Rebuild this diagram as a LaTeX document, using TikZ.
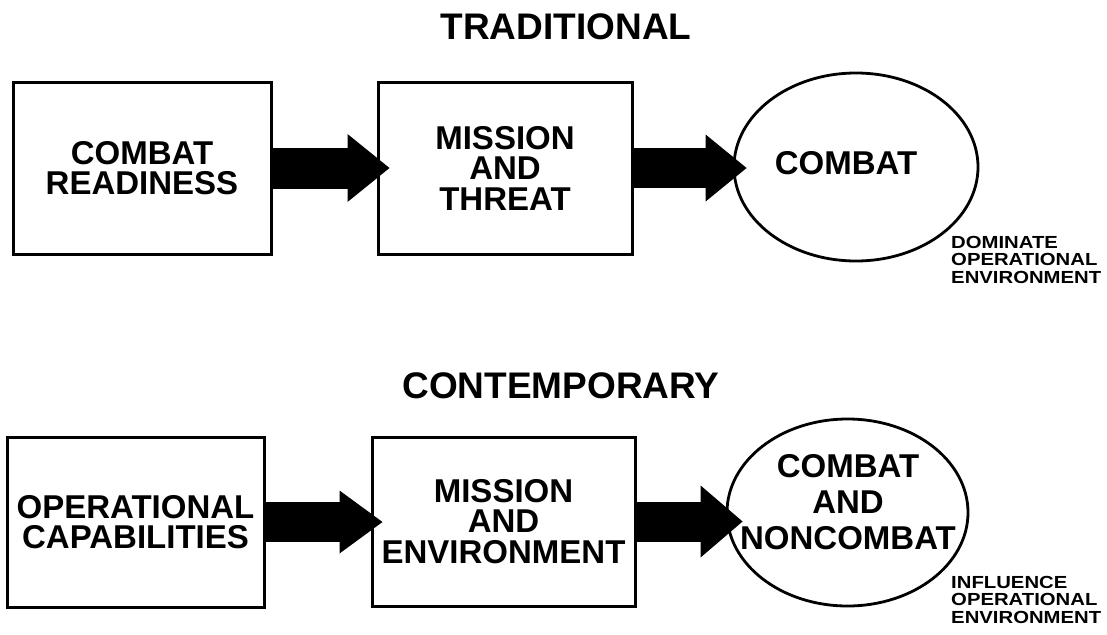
\documentclass[tikz,border=0pt]{standalone}
\usepackage{fontspec}
\setmainfont{Liberation Sans}
\usetikzlibrary{shapes.geometric,arrows.meta,calc}
\begin{document}
\begin{tikzpicture}[x=1pt,y=-1pt,
  box/.style={draw, line width=3pt, rectangle, inner sep=0pt, align=center,
    font=\bfseries\fontsize{33}{30.5}\selectfont},
  oval/.style={draw, line width=2.8pt, ellipse, inner sep=0pt},
  lbl/.style={align=center, inner sep=0pt, font=\bfseries\fontsize{33}{36}\selectfont},
  heading/.style={inner sep=0pt, font=\bfseries\fontsize{37}{37}\selectfont},
  note/.style={anchor=north west, inner sep=0pt, font=\bfseries\fontsize{17.5}{17.5}\selectfont},
  fat/.style={draw=black}
]
\useasboundingbox (0,0) rectangle (1107,634);

% ---- Traditional ----
\node[heading] (t1) at (566,27) {TRADITIONAL};
\node[box, minimum width=258pt, minimum height=172pt] (b1) at (142,168) {COMBAT\\READINESS};
\node[box, minimum width=254pt, minimum height=172pt] (b2) at (505,168) {MISSION\\AND\\THREAT};
\node[oval, minimum width=244pt, minimum height=188pt] (e1) at (856,167) {};
\node[lbl] (e1t) at (846,163) {COMBAT};
\node[note] (n1) at (951,236) {\scalebox{1.16}[1]{\begin{tabular}{@{}l@{}}DOMINATE\\OPERATIONAL\\ENVIRONMENT\end{tabular}}};

\coordinate (a1) at ([xshift=13pt]b2.west);
\coordinate (a2) at ([xshift=14pt]e1.west);
\draw[fat, line width=41pt, -{Triangle[length=42pt,width=68pt,line width=0pt]}] (b1.east) -- (b1.east -| a1);
\draw[fat, line width=40pt, -{Triangle[length=41pt,width=67pt,line width=0pt]}] (b2.east) -- (b2.east -| a2);

% ---- Contemporary ----
\node[heading] (t2) at (561,386) {CONTEMPORARY};
\node[box, minimum width=257pt, minimum height=170pt] (b3) at (135.5,522) {OPERATIONAL\\CAPABILITIES};
\node[box, minimum width=263pt, minimum height=169pt] (b4) at (503.5,521.5) {MISSION\\AND\\ENVIRONMENT};
\node[oval, minimum width=241pt, minimum height=187pt] (e2) at (847.5,512.5) {};
\node[lbl] (e2t) at (848,502) {COMBAT\\AND\\NONCOMBAT};
\node[note] (n2) at (951,576) {\scalebox{1.16}[1]{\begin{tabular}{@{}l@{}}INFLUENCE\\OPERATIONAL\\ENVIRONMENT\end{tabular}}};

\coordinate (a3) at ([xshift=12pt]b4.west);
\coordinate (a4) at ([xshift=17pt]e2.west);
\draw[fat, line width=40pt, -{Triangle[length=43pt,width=63pt,line width=0pt]}] (b3.east) -- (b3.east -| a3);
\draw[fat, line width=40pt, -{Triangle[length=42pt,width=72pt,line width=0pt]}] (b4.east) -- (b4.east -| a4);
\end{tikzpicture}
\end{document}
